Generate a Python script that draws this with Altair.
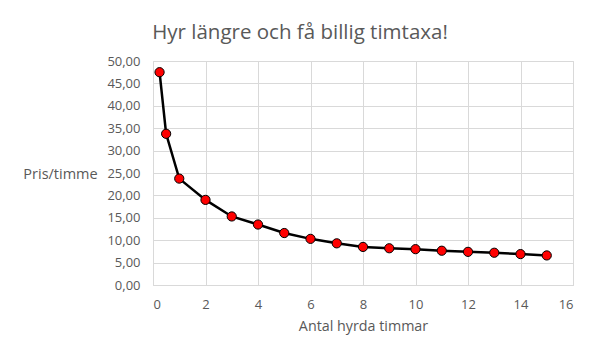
import altair as alt
import pandas as pd

hours = [0.25, 0.5, 1, 2, 3, 4, 5, 6, 7, 8, 9, 10, 11, 12, 13, 14, 15]
price = [47.5, 33.75, 23.75, 19.0, 15.3, 13.5, 11.6, 10.3, 9.3, 8.5, 8.2, 8.0, 7.65, 7.4, 7.2, 6.9, 6.6]

df = pd.DataFrame({"hours": hours, "price": price})

FONT = "Open Sans"
GRAY = "#595959"

x = alt.X("hours:Q",
          scale=alt.Scale(domain=[0, 16], nice=False),
          axis=alt.Axis(values=list(range(0, 17, 2)), title="Antal hyrda timmar",
                        titleFontSize=14.3, titleFontWeight="normal", titleColor=GRAY,
                        titlePadding=8, labelFontSize=13, labelColor=GRAY,
                        labelPadding=13, ticks=False, domainColor="#d9d9d9",
                        gridColor="#d9d9d9", labelFont=FONT, titleFont=FONT))
y = alt.Y("price:Q",
          scale=alt.Scale(domain=[0, 50], nice=False),
          axis=alt.Axis(values=list(range(0, 51, 5)), title="Pris/timme",
                        titleAngle=0, titleX=-93, titleY=113, titleAlign="center",
                        titleBaseline="middle",
                        titleFontSize=14.5, titleFontWeight="normal", titleColor=GRAY,
                        labelFontSize=13, labelColor=GRAY, labelPadding=13,
                        ticks=False, domain=False, gridColor="#d9d9d9",
                        labelExpr="replace(format(datum.value, '.2f'), '.', ',')",
                        labelFont=FONT, titleFont=FONT))

line = alt.Chart(df).mark_line(color="black", strokeWidth=2.5).encode(x=x, y=y)
pts = alt.Chart(df).mark_point(filled=True, fill="#ff0000", stroke="black",
                               strokeWidth=1, opacity=1, size=85).encode(x=x, y=y)

chart = (line + pts).properties(
    width=420, height=224,
    title=alt.TitleParams("Hyr längre och få billig timtaxa!", fontSize=20.5,
                          font=FONT, fontWeight="normal", color=GRAY,
                          anchor="middle", offset=12, dx=-63),
    autosize=alt.AutoSizeParams(type="none"),
    padding={"left": 145, "top": 53, "right": 19, "bottom": 66},
).configure_view(stroke="#d9d9d9")

chart.save("out.html", embed_options={"renderer": "svg", "actions": False})
